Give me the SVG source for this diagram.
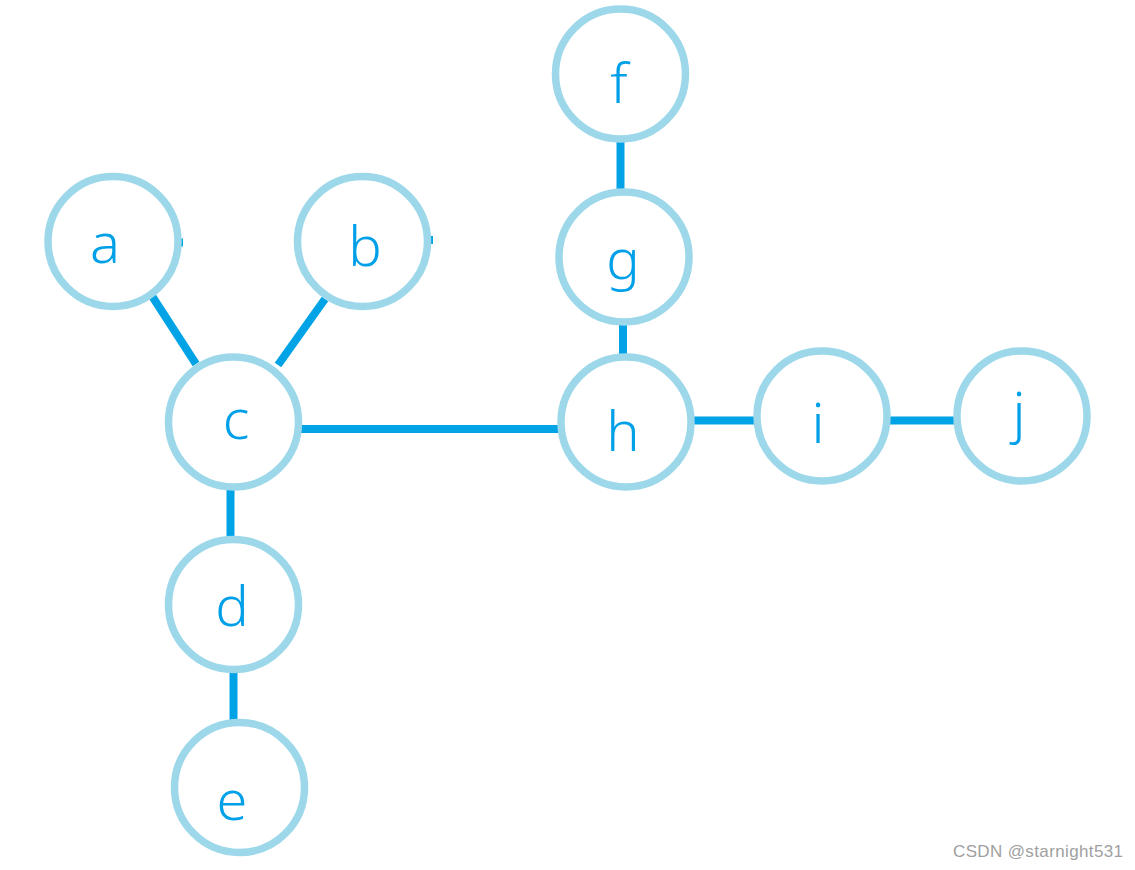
<svg xmlns="http://www.w3.org/2000/svg" width="1135" height="870" viewBox="0 0 1135 870">
<style>
.node circle{fill:#fff;stroke:#9dd8ea;stroke-width:7.5}
.node text{font-family:"Noto Sans","DejaVu Sans",sans-serif;font-size:56px;font-weight:300;fill:#00a0e9;text-anchor:middle}
#edges line{stroke:#00a3e6;stroke-width:8}
.wm{font-family:"Liberation Sans",Arial,sans-serif;font-size:17px;fill:#a0a0a0}
</style>
<rect width="1135" height="870" fill="#fff"/>
<g id="edges">
<line x1="152" y1="296" x2="196" y2="364"/>
<line x1="325" y1="299" x2="278" y2="365"/>
<line x1="300" y1="429" x2="560" y2="429"/>
<line x1="230.5" y1="488" x2="230.5" y2="540"/>
<line x1="233.5" y1="670" x2="233.5" y2="722"/>
<line x1="620.5" y1="140" x2="620.5" y2="191"/>
<line x1="623" y1="323" x2="623" y2="357"/>
<line x1="692" y1="420.5" x2="755" y2="420.5"/>
<line x1="889" y1="420.5" x2="955" y2="420.5"/>
<line x1="178" y1="242.5" x2="183" y2="242.5"/>
<line x1="429" y1="240" x2="433" y2="240"/>
</g>
<g id="node-a" class="node"><circle cx="113" cy="241.5" r="65"/><text x="105" y="263">a</text></g>
<g id="node-b" class="node"><circle cx="362.5" cy="241.5" r="65"/><text x="365" y="266">b</text></g>
<g id="node-c" class="node"><circle cx="233.5" cy="422" r="65"/><text x="236" y="439">c</text></g>
<g id="node-d" class="node"><circle cx="233.5" cy="604.5" r="65"/><text x="232" y="626">d</text></g>
<g id="node-e" class="node"><circle cx="239.5" cy="787.5" r="65"/><text x="232" y="820">e</text></g>
<g id="node-f" class="node"><circle cx="620.5" cy="74" r="65"/><text x="619" y="103">f</text></g>
<g id="node-g" class="node"><circle cx="624" cy="257" r="65"/><text x="623" y="279">g</text></g>
<g id="node-h" class="node"><circle cx="626" cy="422" r="65"/><text x="623" y="451">h</text></g>
<g id="node-i" class="node"><circle cx="822" cy="416" r="65"/><text x="818" y="443">i</text></g>
<g id="node-j" class="node"><circle cx="1022" cy="416" r="65"/><text x="1019" y="432">j</text></g>
<text class="wm" x="953" y="857" textLength="170">CSDN @starnight531</text>
</svg>
